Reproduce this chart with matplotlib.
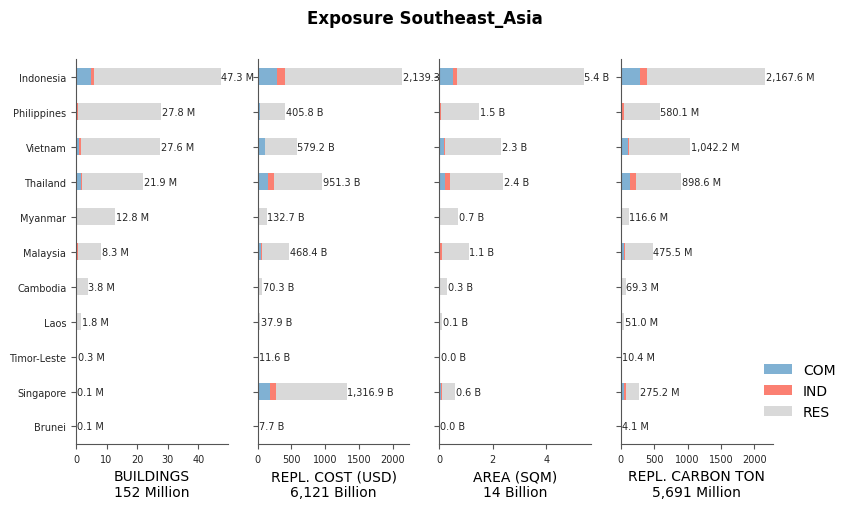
import matplotlib
matplotlib.use("Agg")
import matplotlib.pyplot as plt
import numpy as np

countries = ["Indonesia", "Philippines", "Vietnam", "Thailand", "Myanmar", "Malaysia",
             "Cambodia", "Laos", "Timor-Leste", "Singapore", "Brunei"]

# Buildings (millions)
bld_total = [47.3, 27.8, 27.6, 21.9, 12.8, 8.3, 3.8, 1.8, 0.3, 0.1, 0.1]
bld_com = [4.9, 0.4, 1.1, 1.6, 0.1, 0.4, 0.05, 0.02, 0.01, 0.01, 0.005]
bld_ind = [0.9, 0.4, 0.4, 0.5, 0.05, 0.1, 0.02, 0.01, 0.005, 0.005, 0.002]

# Replacement cost (billion USD)
cost_total = [2139.3, 405.8, 579.2, 951.3, 132.7, 468.4, 70.3, 37.9, 11.6, 1316.9, 7.7]
cost_com = [293, 30, 105, 147, 3, 45, 2, 1, 0.5, 180, 0.5]
cost_ind = [107, 5, 3, 92, 1, 15, 1, 0.5, 0.2, 88, 0.2]

# Area (billion sqm)
area_total = [5.4, 1.5, 2.3, 2.4, 0.7, 1.1, 0.3, 0.1, 0.03, 0.6, 0.02]
area_com = [0.51, 0.03, 0.19, 0.21, 0.01, 0.04, 0.005, 0.003, 0.001, 0.05, 0.001]
area_ind = [0.15, 0.03, 0.03, 0.19, 0.005, 0.05, 0.003, 0.001, 0.0005, 0.05, 0.0005]

# Replacement carbon (million ton)
carb_total = [2167.6, 580.1, 1042.2, 898.6, 116.6, 475.5, 69.3, 51.0, 10.4, 275.2, 4.1]
carb_com = [290, 20, 112, 130, 2, 40, 1, 1, 0.3, 40, 0.3]
carb_ind = [94, 20, 3, 90, 1, 15, 0.5, 0.5, 0.2, 30, 0.1]

panels = [
    ("BUILDINGS\n152 Million", bld_com, bld_ind, bld_total, "{:,.1f} M"),
    ("REPL. COST (USD)\n6,121 Billion", cost_com, cost_ind, cost_total, "{:,.1f} B"),
    ("AREA (SQM)\n14 Billion", area_com, area_ind, area_total, "{:,.1f} B"),
    ("REPL. CARBON TON\n5,691 Million", carb_com, carb_ind, carb_total, "{:,.1f} M"),
]

colors = {"COM": "#80b1d3", "IND": "#fb8072", "RES": "#d9d9d9"}
text_color = "#262626"
spine_color = "#555555"

fig, axes = plt.subplots(1, 4, figsize=(8.5, 5.1), dpi=100)
fig.subplots_adjust(left=0.0894, right=0.909, top=0.882, bottom=0.1275, wspace=0.197)

y = np.arange(len(countries))
for i, (ax, (label, com, ind, tot, fmt)) in enumerate(zip(axes, panels)):
    com = np.array(com, dtype=float)
    ind = np.array(ind, dtype=float)
    tot = np.array(tot, dtype=float)
    res = tot - com - ind
    ax.barh(y, com, height=0.5, color=colors["COM"], label="COM")
    ax.barh(y, ind, left=com, height=0.5, color=colors["IND"], label="IND")
    bars = ax.barh(y, res, left=com + ind, height=0.5, color=colors["RES"], label="RES")
    ax.bar_label(bars, labels=[fmt.format(v) for v in tot], padding=0.5,
                 fontsize=7, color=text_color)
    ax.set_yticks(y)
    if i == 0:
        ax.set_yticklabels(countries, fontsize=7, color=text_color)
    else:
        ax.set_yticklabels([])
    ax.set_ylim(len(countries) - 0.5, -0.5)
    ax.set_xlim(0, tot.max() * 1.05)
    ax.set_xlabel(label, fontsize=10, color="black")
    ax.tick_params(axis="x", labelsize=7, colors=spine_color, labelcolor=text_color)
    ax.tick_params(axis="y", colors=spine_color, labelcolor=text_color)
    for s in ["top", "right"]:
        ax.spines[s].set_visible(False)
    for s in ["left", "bottom"]:
        ax.spines[s].set_color(spine_color)

axes[0].set_xticks([0, 10, 20, 30, 40])
axes[1].set_xticks([0, 500, 1000, 1500, 2000])
axes[2].set_xticks([0, 2, 4])
axes[3].set_xticks([0, 500, 1000, 1500, 2000])

handles, labels_ = axes[3].get_legend_handles_labels()
fig.legend(handles, labels_, loc="center left", bbox_to_anchor=(0.884, 0.232),
           frameon=False, fontsize=10)

fig.suptitle("Exposure Southeast_Asia", fontsize=12, fontweight="bold", y=0.98)

fig.savefig("out.png", dpi=100)
